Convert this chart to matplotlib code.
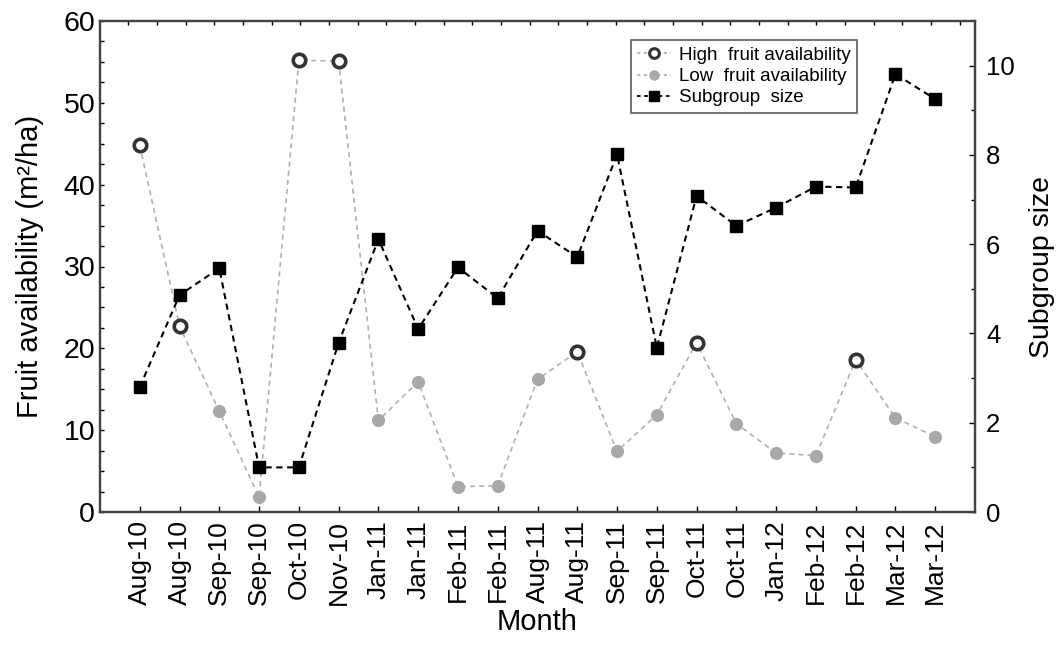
import matplotlib.pyplot as plt
import numpy as np

plt.rcParams['font.family'] = ['Liberation Sans', 'DejaVu Sans']

# data
months = ['Aug-10', 'Aug-10', 'Sep-10', 'Sep-10', 'Oct-10', 'Nov-10', 'Jan-11',
          'Jan-11', 'Feb-11', 'Feb-11', 'Aug-11', 'Aug-11', 'Sep-11', 'Sep-11',
          'Oct-11', 'Oct-11', 'Jan-12', 'Feb-12', 'Feb-12', 'Mar-12', 'Mar-12']
fruit = [44.8, 22.7, 12.3, 1.8, 55.2, 55.1, 11.2, 15.9, 3.1, 3.2, 16.2,
         19.6, 7.4, 11.9, 20.7, 10.8, 7.2, 6.9, 18.6, 11.5, 9.2]
high = [True, True, False, False, True, True, False, False, False, False, False,
        True, False, False, True, False, False, False, True, False, False]
subgroup = [2.8, 4.86, 5.46, 1.0, 1.0, 3.79, 6.11, 4.10, 5.48, 4.79, 6.30,
            5.71, 8.01, 3.68, 7.08, 6.41, 6.82, 7.29, 7.27, 9.81, 9.25]

x = np.arange(len(months))
fruit = np.array(fruit)
high = np.array(high)

fig = plt.figure(figsize=(10.56, 6.5), dpi=100)
ax = fig.add_axes([0.0947, 0.2123, 0.8286, 0.7554])
ax2 = ax.twinx()

# fruit availability: one grey dashed line, two marker styles
ax.plot(x, fruit, ls=(0, (3, 2.5)), color='#b0b0b0', lw=1.2, zorder=2)
h_high, = ax.plot(x[high], fruit[high], ls='none', marker='o', ms=9,
                  mfc='white', mec='#333333', mew=2.6, zorder=3)
h_low, = ax.plot(x[~high], fruit[~high], ls='none', marker='o', ms=9.5,
                 mfc='#a9a9a9', mec='#a9a9a9', mew=0, zorder=3)

h_sub, = ax2.plot(x, subgroup, ls=(0, (3, 2.2)), color='black', lw=1.5,
                  marker='s', ms=9, mfc='black', mec='black', zorder=3)

ax.set_xlim(-1, 21)
ax.set_ylim(0, 60)
ax2.set_ylim(0, 11)

ax.set_xticks(x)
ax.set_xticklabels(months, rotation=90, fontsize=19)
ax.set_yticks(np.arange(0, 61, 10))
ax.set_yticks(np.arange(0, 61, 2.5), minor=True)
ax.tick_params(axis='y', labelsize=20.5, direction='in', length=3, width=1)
ax.tick_params(axis='y', which='minor', direction='in', length=3, width=1)
ax.tick_params(axis='x', direction='in', length=4, width=1, pad=6)

ax2.set_yticks(np.arange(0, 11, 2))
ax2.set_yticks(np.arange(0, 11, 1), minor=True)
ax2.tick_params(axis='y', labelsize=18.5, direction='in', length=4, width=1, pad=8)
ax2.tick_params(axis='y', which='minor', direction='in', length=3, width=1)

# ticks along the top edge
top = ax.secondary_xaxis('top')
top.set_xticks(-0.29 + 0.721 * np.arange(30))
top.set_xticklabels([])
top.tick_params(direction='in', length=3, width=1)

for a in (ax, ax2):
    for s in a.spines.values():
        s.set_color('#444444')
        s.set_linewidth(1.6)
for s in top.spines.values():
    s.set_visible(False)

ax.set_xlabel('Month', fontsize=21, labelpad=2)
ax.set_ylabel('Fruit availability (m²/ha)', fontsize=21, labelpad=14)
ax2.set_ylabel('Subgroup size', fontsize=20.5, labelpad=10)

leg_high, = ax.plot([], [], ls=(0, (2, 2)), color='#b0b0b0', lw=1.2, marker='o',
                    ms=7, mfc='white', mec='#333333', mew=2.2)
leg_low, = ax.plot([], [], ls=(0, (2, 2)), color='#b0b0b0', lw=1.2, marker='o',
                   ms=7.5, mfc='#a9a9a9', mec='#a9a9a9', mew=0)
leg_sub, = ax.plot([], [], ls=(0, (2, 2)), color='black', lw=1.3, marker='s',
                   ms=7, mfc='black', mec='black')
leg = ax2.legend([leg_high, leg_low, leg_sub],
                 ['High  fruit availability', 'Low  fruit availability', 'Subgroup  size'],
                 loc='upper left', bbox_to_anchor=(0.596, 0.98), fontsize=13.5,
                 frameon=True, fancybox=False, edgecolor='#333333',
                 handlelength=1.8, handletextpad=0.4, borderpad=0.35,
                 labelspacing=0.22)
leg.get_frame().set_linewidth(1.2)

fig.savefig('out.png', dpi=100)
